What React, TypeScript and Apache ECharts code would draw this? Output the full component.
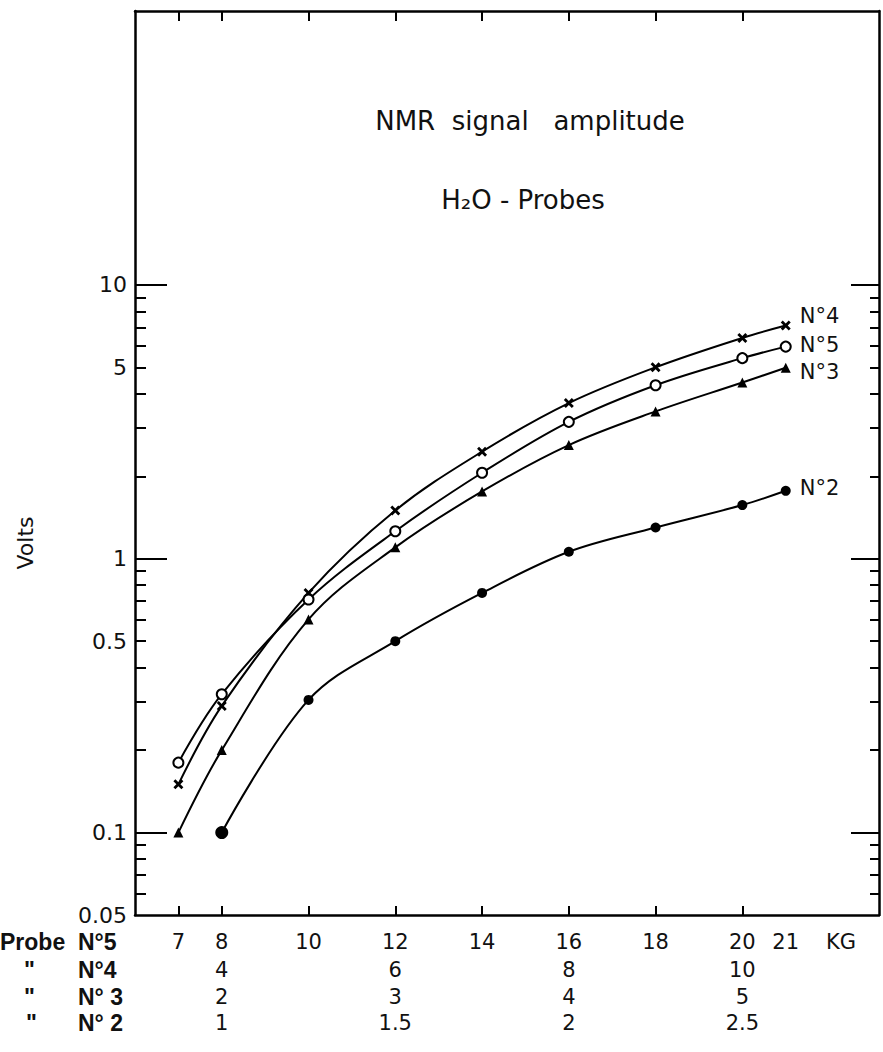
import React, { useEffect, useRef } from "react";
import * as echarts from "echarts";

// Field in kilogauss (scale of probe N°5)
const kg = [7, 8, 10, 12, 14, 16, 18, 20, 21];
const probe4 = [0.15, 0.29, 0.75, 1.5, 2.46, 3.7, 5.0, 6.4, 7.1];
const probe5 = [0.18, 0.32, 0.71, 1.26, 2.06, 3.16, 4.3, 5.4, 5.95];
const probe3 = [0.1, 0.2, 0.6, 1.1, 1.76, 2.6, 3.45, 4.4, 4.98];
const kgProbe2 = [8, 10, 12, 14, 16, 18, 20, 21];
const probe2 = [0.1, 0.305, 0.5, 0.75, 1.06, 1.3, 1.57, 1.77];

// Tick labels
const xTickValues = [7, 8, 10, 12, 14, 16, 18, 20];
const xLabelValues = [7, 8, 10, 12, 14, 16, 18, 20, 21];
const probe4Labels = [4, 6, 8, 10];
const probe3Labels = [2, 3, 4, 5];
const probe2Labels = [1, 1.5, 2, 2.5];
const yLabelValues = [0.05, 0.1, 0.5, 1, 5, 10];
const yMajorTicks = [0.1, 1, 10];
const yMinorTicks = [0.06, 0.07, 0.08, 0.09, 0.2, 0.3, 0.4, 0.5, 0.6, 0.7, 0.8, 0.9, 2, 3, 4, 5, 6, 7, 8, 9];

const X_MIN = 6;
const X_MAX = 23.15;
const Y_MIN = 0.05;
const Y_MAX = 100;

const FONT = "DejaVu Sans";
const BOLD_FONT = "Liberation Sans";
const INK = "#111";

const crossSymbol =
  "path://M2,0 L5,3 L8,0 L10,2 L7,5 L10,8 L8,10 L5,7 L2,10 L0,8 L3,5 L0,2 Z";

const fmt = (v: number) => `${parseFloat(Number(v).toPrecision(4))}`;

export default function App() {
  const ref = useRef<HTMLDivElement>(null);

  useEffect(() => {
    if (!ref.current) return;
    const chart = echarts.init(ref.current, undefined, { renderer: "svg" });

    const labelStyle = { fontSize: 21, color: INK, fontFamily: FONT };

    const probeAxis = (div: number, offset: number, values: number[]) => ({
      type: "value",
      position: "bottom",
      offset,
      min: X_MIN / div,
      max: X_MAX / div,
      axisLine: { show: false },
      axisTick: { show: false },
      splitLine: { show: false },
      axisLabel: { ...labelStyle, margin: 16, customValues: values, formatter: fmt },
    });

    const yBase = {
      type: "log",
      logBase: 10,
      min: Y_MIN,
      max: Y_MAX,
      splitLine: { show: false },
    };

    const lineSeries = (name: string, xs: number[], ys: number[], symbol: string, extra: any) => ({
      type: "line",
      name,
      xAxisIndex: 0,
      yAxisIndex: 0,
      data: xs.map((x, i) => [x, ys[i]]),
      smooth: 0.35,
      clip: false,
      symbol,
      symbolSize: 10,
      lineStyle: { color: "#000", width: 2 },
      itemStyle: { color: "#000", borderColor: "#000", borderWidth: 0 },
      endLabel: {
        show: true,
        formatter: name,
        distance: 14,
        fontSize: 21,
        color: INK,
        fontFamily: FONT,
        ...(extra.endLabel || {}),
      },
      ...extra.series,
    });

    const textStyle = (text: string, size: number, align: string, bold = false) => ({
      text,
      fontSize: size,
      fontWeight: bold ? "bold" : "normal",
      fontFamily: bold ? BOLD_FONT : FONT,
      fill: INK,
      textAlign: align,
      textVerticalAlign: "middle",
      align,
      verticalAlign: "middle",
    });

    const option: any = {
      animation: false,
      backgroundColor: "#fff",
      grid: { left: 135, top: 11, right: 4, bottom: 137, containLabel: false },
      xAxis: [
        {
          type: "value",
          position: "bottom",
          min: X_MIN,
          max: X_MAX,
          axisLine: { show: true, lineStyle: { color: "#000", width: 2.5 } },
          axisTick: { show: true, inside: true, length: 9, lineStyle: { color: "#000", width: 2 }, customValues: xTickValues },
          splitLine: { show: false },
          axisLabel: { ...labelStyle, margin: 16, customValues: xLabelValues, formatter: fmt },
        },
        {
          type: "value",
          position: "top",
          min: X_MIN,
          max: X_MAX,
          axisLine: { show: true, lineStyle: { color: "#000", width: 2.5 } },
          axisTick: { show: true, inside: true, length: 10, lineStyle: { color: "#000", width: 2 }, customValues: xTickValues },
          splitLine: { show: false },
          axisLabel: { show: false },
        },
        probeAxis(2, 28, probe4Labels),
        probeAxis(4, 55, probe3Labels),
        probeAxis(8, 81, probe2Labels),
      ],
      yAxis: [
        {
          ...yBase,
          position: "left",
          axisLine: { show: true, lineStyle: { color: "#000", width: 2.5 } },
          axisTick: { show: true, inside: true, length: 32, lineStyle: { color: "#000", width: 2 }, customValues: yMajorTicks },
          axisLabel: { ...labelStyle, fontSize: 22, margin: 8, customValues: yLabelValues, formatter: fmt },
        },
        {
          ...yBase,
          position: "left",
          axisLine: { show: false },
          axisTick: { show: true, inside: true, length: 11, lineStyle: { color: "#000", width: 2 }, customValues: yMinorTicks },
          axisLabel: { show: false },
        },
        {
          ...yBase,
          position: "right",
          axisLine: { show: true, lineStyle: { color: "#000", width: 2.5 } },
          axisTick: { show: true, inside: true, length: 28, lineStyle: { color: "#000", width: 2 }, customValues: yMajorTicks },
          axisLabel: { show: false },
        },
        {
          ...yBase,
          position: "right",
          axisLine: { show: false },
          axisTick: { show: true, inside: true, length: 9, lineStyle: { color: "#000", width: 2 }, customValues: yMinorTicks },
          axisLabel: { show: false },
        },
      ],
      series: [
        lineSeries("N°4", kg, probe4, crossSymbol, { endLabel: { offset: [0, -10] } }),
        lineSeries("N°5", kg, probe5, "circle", {
          series: { itemStyle: { color: "#fff", borderColor: "#000", borderWidth: 2 }, symbolSize: 10 },
          endLabel: { offset: [0, -2] },
        }),
        lineSeries("N°3", kg, probe3, "triangle", { endLabel: { offset: [0, 4] } }),
        lineSeries("N°2", kgProbe2, probe2, "circle", {
          series: { symbolSize: (_v: any, p: any) => (p.dataIndex === 0 ? 13 : 10) },
          endLabel: { offset: [0, -3] },
        }),
      ],
      graphic: [
        { type: "text", x: 530, y: 121, style: textStyle("NMR  signal   amplitude", 26, "center") },
        { type: "text", x: 523, y: 200, style: textStyle("H₂O - Probes", 26, "center") },
        { type: "text", x: 25, y: 543, rotation: Math.PI / 2, style: textStyle("Volts", 22, "center") },
        ...[
          { t: "Probe", x: 0, y: 942 },
          { t: "N°5", x: 78, y: 942 },
          { t: "\"", x: 24, y: 970 },
          { t: "N°4", x: 78, y: 970 },
          { t: "\"", x: 24, y: 997 },
          { t: "N° 3", x: 78, y: 997 },
          { t: "\"", x: 26, y: 1023 },
          { t: "N° 2", x: 78, y: 1023 },
        ].map((d) => ({ type: "text", x: d.x, y: d.y, style: textStyle(d.t, 23, "left", true) })),
        { type: "text", x: 826, y: 942, style: textStyle("KG", 21, "left") },
      ],
    };

    chart.setOption(option);
    return () => chart.dispose();
  }, []);

  return (
    <div
      ref={ref}
      style={{ position: "absolute", left: 0, top: 0, width: 883, height: 1052, background: "#fff" }}
    />
  );
}
